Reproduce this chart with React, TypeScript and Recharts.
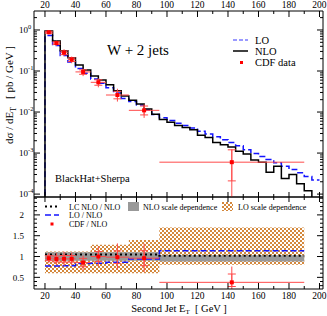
import React from 'react';
import { ComposedChart, Line, Scatter, XAxis, YAxis, ErrorBar, Area } from 'recharts';

const FONT = '"Liberation Serif", "Times New Roman", Times, serif';
const W = 327;
const H = 316;

// ---------- top panel: histograms (5 GeV bins) ----------
const binEdges = [20, 25, 30, 35, 40, 45, 50, 55, 60, 65, 70, 75, 80, 85, 90, 95, 100, 105, 110, 115, 120, 125, 130, 135, 140, 145, 150, 155, 160, 165, 170, 175, 180, 185, 190, 195, 200];
const nloValues = [0.95, 0.54, 0.31, 0.21, 0.14, 0.106, 0.076, 0.06, 0.046, 0.033, 0.0245, 0.0195, 0.0158, 0.0118, 0.0088, 0.0066, 0.0056, 0.0047, 0.0042, 0.0037, 0.0027, 0.0024, 0.0018, 0.0016, 0.0014, 0.0011, 0.00095, 0.00068, 0.0006, 0.00034, 0.00048, 0.00024, 0.0003, 0.00018, 0.00012, 0.00005];
const loValues = [0.73, 0.42, 0.24, 0.165, 0.115, 0.088, 0.064, 0.05, 0.039, 0.029, 0.0215, 0.018, 0.0148, 0.0112, 0.0087, 0.0073, 0.0062, 0.0053, 0.0047, 0.0041, 0.0034, 0.0029, 0.0025, 0.0021, 0.0018, 0.0015, 0.0012, 0.00098, 0.00082, 0.0007, 0.00058, 0.00048, 0.0004, 0.00033, 0.00027, 0.00022];

// ---------- CDF data ----------
const cdfX = [22.5, 27.5, 32.5, 37.5, 45, 55, 67.5, 85, 142.5];
const cdfXHalf = [2.5, 2.5, 2.5, 2.5, 5, 5, 7.5, 10, 47.5];
const cdfValues = [0.88, 0.48, 0.28, 0.19, 0.095, 0.053, 0.026, 0.011, 0.0006];
const cdfErrLow = [0.1, 0.07, 0.05, 0.035, 0.02, 0.013, 0.008, 0.0038, 0.000515];
const cdfErrHigh = [0.11, 0.07, 0.06, 0.035, 0.02, 0.013, 0.011, 0.0045, 0.00063];
const cdfStatLow = [0.05, 0.035, 0.03, 0.02, 0.012, 0.008, 0.005, 0.0025, 0.00039];
const cdfStatHigh = [0.05, 0.035, 0.03, 0.02, 0.012, 0.008, 0.006, 0.003, 0.0006];

// ---------- bottom panel: ratios (CDF bins) ----------
const ratioEdges = [20, 25, 30, 35, 40, 50, 60, 75, 95, 190];
const loOverNlo = [0.77, 0.77, 0.78, 0.78, 0.83, 0.84, 0.86, 0.94, 1.14];
const lcOverNlo = [1.05, 1.05, 1.05, 1.05, 1.05, 1.05, 1.05, 1.05, 1.02];
const nloBandLow = [0.9, 0.9, 0.9, 0.9, 0.9, 0.9, 0.9, 0.9, 0.88];
const nloBandHigh = [1.1, 1.1, 1.1, 1.1, 1.1, 1.1, 1.1, 1.1, 1.03];
const loBandLow = [0.6, 0.6, 0.6, 0.6, 0.6, 0.6, 0.6, 0.6, 0.8];
const loBandHigh = [1.12, 1.12, 1.12, 1.12, 1.12, 1.28, 1.28, 1.4, 1.7];
const cdfRatio = [0.96, 0.94, 0.945, 0.945, 0.855, 1.0, 0.985, 0.96, 0.38];
const cdfRatioErrLow = [0.12, 0.14, 0.17, 0.15, 0.19, 0.24, 0.3, 0.33, 0.16];
const cdfRatioErrHigh = [0.12, 0.14, 0.17, 0.15, 0.165, 0.24, 0.33, 0.35, 0.38];
const cdfRatioStatLow = [0.06, 0.07, 0.08, 0.08, 0.1, 0.12, 0.15, 0.18, 0.1];
const cdfRatioStatHigh = [0.06, 0.07, 0.08, 0.08, 0.1, 0.12, 0.15, 0.18, 0.2];

// ---------- ticks ----------
const xTicks = [20, 30, 40, 50, 60, 70, 80, 90, 100, 110, 120, 130, 140, 150, 160, 170, 180, 190, 200];
const xMajor = [20, 40, 60, 80, 100, 120, 140, 160, 180, 200];
const xLabels = ['20', '40', '60', '80', '100', '120', '140', '160', '180', '200'];
const logTicks = [
  0.0001, 0.0002, 0.0003, 0.0004, 0.0005, 0.0006, 0.0007, 0.0008, 0.0009,
  0.001, 0.002, 0.003, 0.004, 0.005, 0.006, 0.007, 0.008, 0.009,
  0.01, 0.02, 0.03, 0.04, 0.05, 0.06, 0.07, 0.08, 0.09,
  0.1, 0.2, 0.3, 0.4, 0.5, 0.6, 0.7, 0.8, 0.9,
  1, 2,
];
const logMajor = [0.0001, 0.001, 0.01, 0.1, 1];
const logExponents = ['-4', '-3', '-2', '-1', '0'];
const ratioTicks = [0.3, 0.4, 0.5, 0.6, 0.7, 0.8, 0.9, 1, 1.1, 1.2, 1.3, 1.4, 1.5, 1.6, 1.7, 1.8, 1.9, 2, 2.1, 2.2, 2.3, 2.4];
const ratioMajor = [0.5, 1, 1.5, 2];
const ratioLabels = ['0.5', '1', '1.5', '2'];

const X_DOMAIN: [number, number] = [12.8, 202.3];
const LOG_DOMAIN: [number, number] = [8.5e-5, 2.9];
const RATIO_DOMAIN: [number, number] = [0.22, 2.43];

// ---------- derived tables ----------
const histData = [
  { x: 20, nlo: 1e-6, lo: 1e-6 },
  ...binEdges.map((e, i) => ({
    x: e,
    nlo: nloValues[Math.min(i, nloValues.length - 1)],
    lo: loValues[Math.min(i, loValues.length - 1)],
  })),
];
const cdfTop = cdfX.map((x, i) => ({
  x,
  y: cdfValues[i],
  xerr: cdfXHalf[i],
  yerr: [cdfErrLow[i], cdfErrHigh[i]],
  ystat: [cdfStatLow[i], cdfStatHigh[i]],
}));
const ratioData = ratioEdges.map((e, i) => {
  const k = Math.min(i, loOverNlo.length - 1);
  return {
    x: e,
    lo: loOverNlo[k],
    lc: lcOverNlo[k],
    nloBand: [nloBandLow[k], nloBandHigh[k]],
    loBand: [loBandLow[k], loBandHigh[k]],
  };
});
const cdfBottom = cdfX.map((x, i) => ({
  x,
  y: cdfRatio[i],
  xerr: cdfXHalf[i],
  yerr: [cdfRatioErrLow[i], cdfRatioErrHigh[i]],
  ystat: [cdfRatioStatLow[i], cdfRatioStatHigh[i]],
}));

type Side = 'top' | 'bottom' | 'left' | 'right';

function tickRenderer(
  side: Side,
  majors: number[],
  label?: (idx: number, x: number, y: number) => React.ReactNode,
  majorLen = 6,
  minorLen = 3,
) {
  const majorIndex = (v: number) => majors.findIndex((m) => Math.abs(m - v) <= Math.abs(m) * 1e-6);
  return (props: any) => {
    const { x, y, payload } = props;
    const idx = majorIndex(payload.value);
    const len = idx >= 0 ? majorLen : minorLen;
    let x2 = x;
    let y2 = y;
    if (side === 'top') y2 = y + len;
    if (side === 'bottom') y2 = y - len;
    if (side === 'left') x2 = x + len;
    if (side === 'right') x2 = x - len;
    return (
      <g>
        <line x1={x} y1={y} x2={x2} y2={y2} stroke="#000" strokeWidth={1} />
        {label && idx >= 0 ? label(idx, x, y) : null}
      </g>
    );
  };
}

const topXLabel = (i: number, x: number, y: number) => (
  <text x={x} y={y - 3.5} textAnchor="middle" fontSize={9.5} fontFamily={FONT} fill="#000">
    {xLabels[i]}
  </text>
);
const bottomXLabel = (i: number, x: number, y: number) => (
  <text x={x} y={y + 10} textAnchor="middle" fontSize={9.5} fontFamily={FONT} fill="#000">
    {xLabels[i]}
  </text>
);
const logLabel = (i: number, x: number, y: number) => (
  <text x={x - 15} y={y + 3.2} fontSize={9} fontFamily={FONT} fill="#000">
    10
    <tspan dy={-4.2} fontSize={6.5}>
      {logExponents[i]}
    </tspan>
  </text>
);
const ratioLabel = (i: number, x: number, y: number) => (
  <text x={x - 10} y={y + 3.2} textAnchor="end" fontSize={9} fontFamily={FONT} fill="#000">
    {ratioLabels[i]}
  </text>
);

const axisCommon = {
  type: 'number' as const,
  allowDataOverflow: true,
  interval: 0 as const,
  tickSize: 0,
  tickMargin: 0,
  tickLine: false,
  axisLine: { stroke: '#000', strokeWidth: 1 },
};

const RED = '#ff0000';
const RED_LIGHT = '#ff4a4a';
const BLUE = '#1414ff';
const ORANGE = '#d4883c';

const redSquare = (p: any) => <rect x={p.cx - 2} y={p.cy - 2} width={4} height={4} fill={RED} />;

function TopChart() {
  return (
    <ComposedChart width={W} height={H} data={histData} margin={{ top: 0, right: 0, bottom: 0, left: 0 }}>
      <XAxis xAxisId="t" orientation="top" dataKey="x" domain={X_DOMAIN} height={11} ticks={xTicks} tick={tickRenderer('top', xMajor, topXLabel)} {...axisCommon} />
      <XAxis xAxisId="b" orientation="bottom" dataKey="x" domain={X_DOMAIN} height={H - 197} ticks={xTicks} tick={tickRenderer('bottom', xMajor, undefined, 5, 3)} {...axisCommon} />
      <YAxis yAxisId="l" orientation="left" dataKey="y" scale="log" domain={LOG_DOMAIN} width={34} ticks={logTicks} tick={tickRenderer('left', logMajor, logLabel)} {...axisCommon} />
      <YAxis yAxisId="r" orientation="right" scale="log" domain={LOG_DOMAIN} width={4} ticks={logTicks} tick={tickRenderer('right', logMajor)} {...axisCommon} />
      <Line xAxisId="b" yAxisId="r" dataKey="nlo" stroke="none" dot={false} activeDot={false} isAnimationActive={false} legendType="none" />
      <Line xAxisId="t" yAxisId="l" type="stepAfter" dataKey="lo" stroke={BLUE} strokeWidth={1.5} strokeDasharray="6 3" dot={false} activeDot={false} isAnimationActive={false} />
      <Line xAxisId="t" yAxisId="l" type="stepAfter" dataKey="nlo" stroke="#000" strokeWidth={1.5} dot={false} activeDot={false} isAnimationActive={false} />
      <Scatter xAxisId="t" yAxisId="l" data={cdfTop} dataKey="y" shape={redSquare} isAnimationActive={false}>
        <ErrorBar dataKey="xerr" direction="x" width={0} stroke={RED_LIGHT} strokeWidth={1} isAnimationActive={false} />
        <ErrorBar dataKey="yerr" direction="y" width={0} stroke={RED_LIGHT} strokeWidth={1} isAnimationActive={false} />
        <ErrorBar dataKey="ystat" direction="y" width={4} stroke={RED_LIGHT} strokeWidth={1} isAnimationActive={false} />
      </Scatter>
    </ComposedChart>
  );
}

function BottomChart() {
  return (
    <ComposedChart width={W} height={H} data={ratioData} margin={{ top: 0, right: 0, bottom: 0, left: 0 }}>
      <defs>
        <pattern id="loCheck" width={4} height={4} patternUnits="userSpaceOnUse">
          <rect x={0} y={0} width={2} height={2} fill={ORANGE} />
          <rect x={2} y={2} width={2} height={2} fill={ORANGE} />
        </pattern>
      </defs>
      <XAxis xAxisId="t" orientation="top" dataKey="x" domain={X_DOMAIN} height={197} ticks={xTicks} tick={tickRenderer('top', xMajor, undefined, 5, 3)} {...axisCommon} />
      <XAxis xAxisId="b" orientation="bottom" dataKey="x" domain={X_DOMAIN} height={H - 289} ticks={xTicks} tick={tickRenderer('bottom', xMajor, bottomXLabel)} {...axisCommon} />
      <YAxis yAxisId="l" orientation="left" dataKey="y" domain={RATIO_DOMAIN} width={34} ticks={ratioTicks} tick={tickRenderer('left', ratioMajor, ratioLabel)} {...axisCommon} />
      <YAxis yAxisId="r" orientation="right" domain={RATIO_DOMAIN} width={4} ticks={ratioTicks} tick={tickRenderer('right', ratioMajor)} {...axisCommon} />
      <Line xAxisId="t" yAxisId="r" dataKey="lc" stroke="none" dot={false} activeDot={false} isAnimationActive={false} legendType="none" />
      <Area xAxisId="b" yAxisId="l" type="stepAfter" dataKey="loBand" fill="url(#loCheck)" fillOpacity={1} stroke="none" isAnimationActive={false} />
      <Area xAxisId="b" yAxisId="l" type="stepAfter" dataKey="nloBand" fill="#999999" fillOpacity={1} stroke="none" isAnimationActive={false} />
      <Line xAxisId="b" yAxisId="l" type="stepAfter" dataKey="lc" stroke="#000" strokeWidth={2} strokeDasharray="2 3" dot={false} activeDot={false} isAnimationActive={false} />
      <Line xAxisId="b" yAxisId="l" type="stepAfter" dataKey="lo" stroke={BLUE} strokeWidth={1.5} strokeDasharray="6 3" dot={false} activeDot={false} isAnimationActive={false} />
      <Scatter xAxisId="b" yAxisId="l" data={cdfBottom} dataKey="y" shape={redSquare} isAnimationActive={false}>
        <ErrorBar dataKey="xerr" direction="x" width={0} stroke={RED_LIGHT} strokeWidth={1} isAnimationActive={false} />
        <ErrorBar dataKey="yerr" direction="y" width={0} stroke={RED_LIGHT} strokeWidth={1} isAnimationActive={false} />
        <ErrorBar dataKey="ystat" direction="y" width={4} stroke={RED_LIGHT} strokeWidth={1} isAnimationActive={false} />
      </Scatter>
    </ComposedChart>
  );
}

function Annotations() {
  const t = { fontFamily: FONT, fill: '#000' };
  return (
    <svg width={W} height={H} style={{ position: 'absolute', left: 0, top: 0, pointerEvents: 'none' }}>
      <defs>
        <pattern id="loCheckLeg" width={4} height={4} patternUnits="userSpaceOnUse">
          <rect x={0} y={0} width={2} height={2} fill={ORANGE} />
          <rect x={2} y={2} width={2} height={2} fill={ORANGE} />
        </pattern>
      </defs>
      <text x={107} y={55} fontSize={15} {...t}>W + 2 jets</text>
      {/* top legend */}
      <line x1={233} y1={40} x2={248} y2={40} stroke="#7a7aff" strokeWidth={1.5} strokeDasharray="4 2" />
      <text x={255} y={44} fontSize={10.5} {...t}>LO</text>
      <line x1={233} y1={51} x2={248} y2={51} stroke="#000" strokeWidth={1.5} />
      <text x={255} y={55} fontSize={10.5} {...t}>NLO</text>
      <rect x={240} y={61} width={3} height={3} fill={RED} />
      <text x={255} y={66} fontSize={10.5} {...t}>CDF data</text>
      <text x={55} y={181.5} fontSize={10.5} {...t}>BlackHat+Sherpa</text>
      {/* bottom legend */}
      <line x1={45} y1={206.5} x2={59} y2={206.5} stroke="#000" strokeWidth={2} strokeDasharray="2 3" />
      <text x={69} y={209.5} fontSize={8} {...t}>LC NLO / NLO</text>
      <rect x={128} y={202} width={11} height={9} fill="#999999" />
      <text x={143} y={209.5} fontSize={8} {...t}>NLO scale dependence</text>
      <rect x={222} y={202} width={11} height={9} fill="url(#loCheckLeg)" />
      <text x={238} y={209.5} fontSize={8} {...t}>LO scale dependence</text>
      <line x1={45} y1={215} x2={59} y2={215} stroke={BLUE} strokeWidth={1.5} strokeDasharray="6 3" />
      <text x={69} y={218} fontSize={8} {...t}>LO / NLO</text>
      <rect x={50.5} y={222.5} width={3} height={3} fill={RED} />
      <text x={69} y={227} fontSize={8} {...t}>CDF / NLO</text>
      {/* axis titles */}
      <text x={179} y={312} textAnchor="middle" fontSize={10.5} {...t}>
        Second Jet E<tspan dy={2} fontSize={7}>T</tspan>
        <tspan dy={-2}>{'\u00a0\u00a0[ GeV ]'}</tspan>
      </text>
      <text transform="translate(13,95) rotate(-90)" textAnchor="middle" fontSize={11} {...t}>
        dσ / dE<tspan dy={2.5} fontSize={7.5}>T</tspan>
        <tspan dy={-2.5}>{'\u00a0\u00a0\u00a0[ pb / GeV ]'}</tspan>
      </text>
    </svg>
  );
}

export default function App() {
  return (
    <div style={{ position: 'absolute', left: 0, top: 0, width: W, height: H, background: '#fff', overflow: 'hidden' }}>
      <div style={{ position: 'absolute', left: 0, top: 0 }}>
        <BottomChart />
      </div>
      <div style={{ position: 'absolute', left: 0, top: 0 }}>
        <TopChart />
      </div>
      <Annotations />
    </div>
  );
}
